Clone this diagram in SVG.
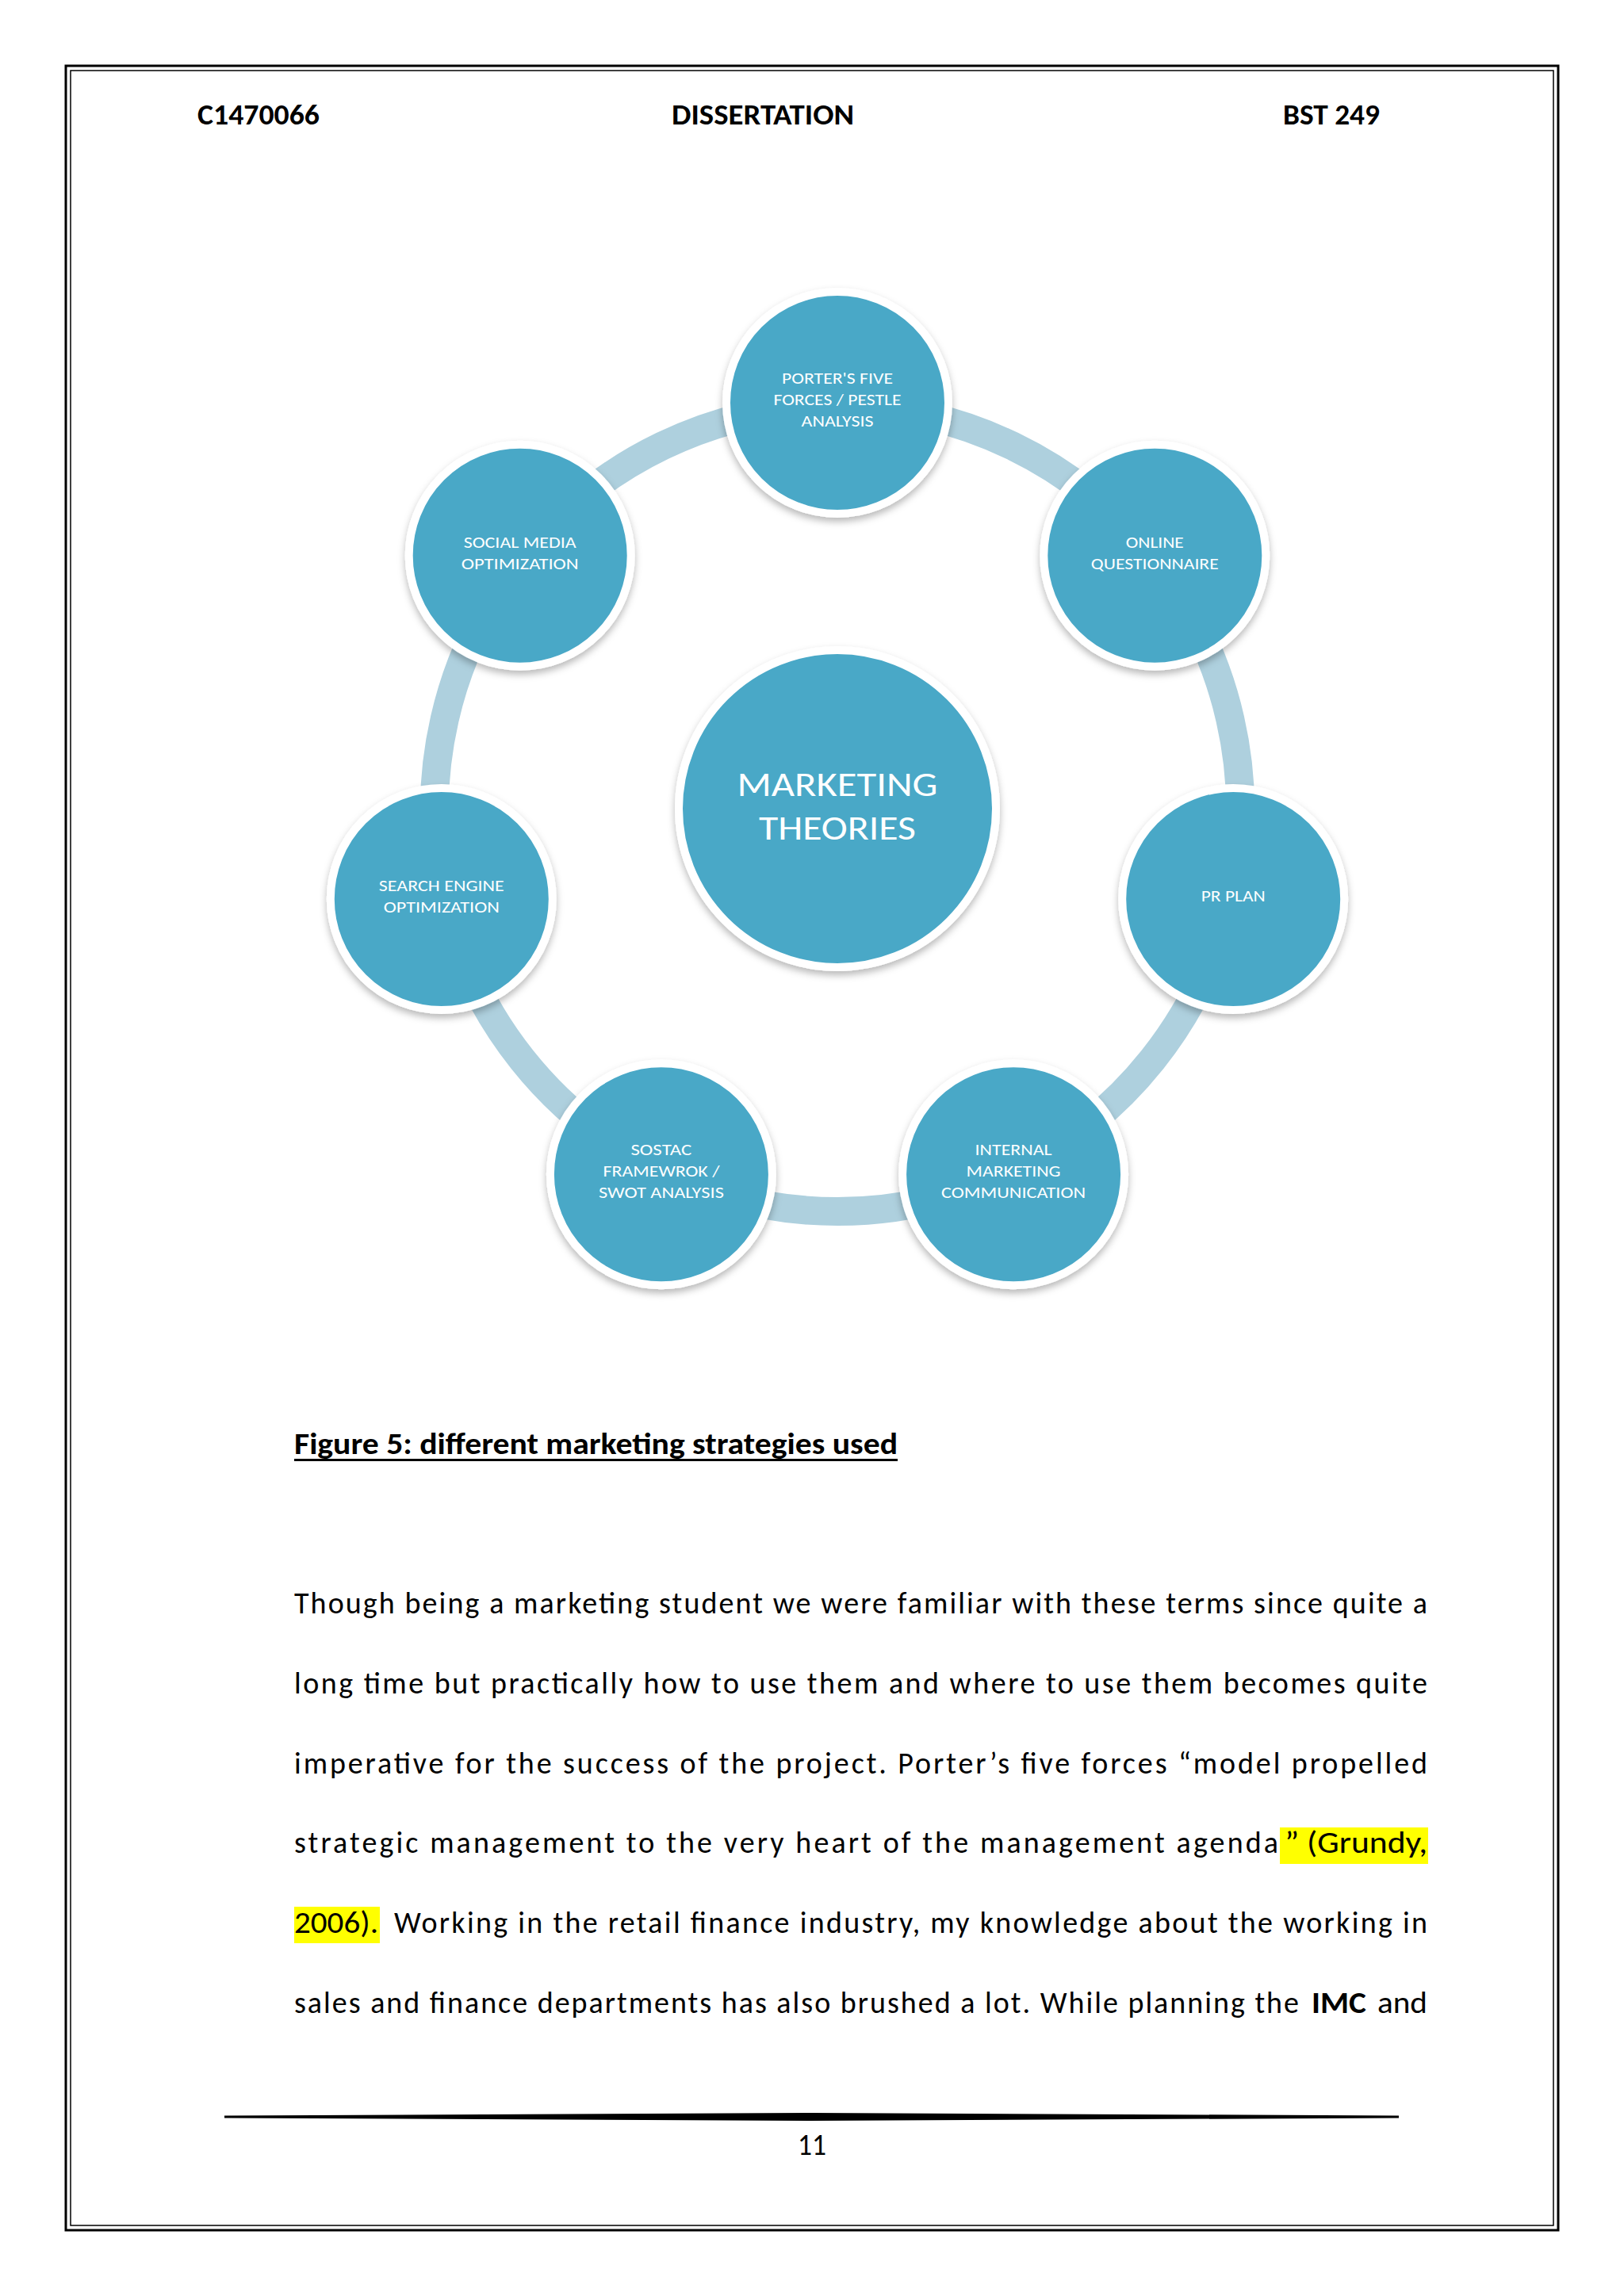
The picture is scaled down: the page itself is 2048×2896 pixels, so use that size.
<svg xmlns="http://www.w3.org/2000/svg" width="2048" height="2896" viewBox="0 0 2048 2896">
<defs>
<style>
.hdr{font-family:Carlito,Lato,"Liberation Sans",sans-serif;font-weight:bold;font-size:37px;fill:#000}
.body{font-family:Carlito,Lato,"Liberation Sans",sans-serif;font-size:38px;fill:#000}
.bold{font-weight:bold}
.lbl{font-family:Carlito,Lato,"Open Sans",sans-serif;font-size:19.5px;fill:#fff;text-anchor:middle}
.ctr{font-family:Carlito,Lato,"Open Sans",sans-serif;font-size:44px;fill:#fff;text-anchor:middle}
.node{fill:#4aa8c7;stroke:#fff;stroke-width:10}
.arc{fill:none;stroke:#aed0de;stroke-width:36}
</style>
<filter id="sh" x="-20%" y="-20%" width="140%" height="145%">
<feDropShadow dx="0" dy="5" stdDeviation="5" flood-color="#000" flood-opacity="0.28"/>
</filter>
</defs>
<rect x="0" y="0" width="2048" height="2896" fill="#fff"/>
<!-- page border -->
<rect x="83" y="83" width="1882" height="2730" fill="none" stroke="#000" stroke-width="3"/>
<rect x="89" y="89" width="1870" height="2718" fill="none" stroke="#000" stroke-width="1.5"/>
<!-- header -->
<text class="hdr" x="249" y="157" textLength="154" lengthAdjust="spacingAndGlyphs">C1470066</text>
<text class="hdr" x="847" y="157" textLength="230" lengthAdjust="spacingAndGlyphs">DISSERTATION</text>
<text class="hdr" x="1618" y="157" textLength="122" lengthAdjust="spacingAndGlyphs">BST 249</text>
<!-- connectors -->
<g id="connectors">
<path class="arc" d="M1056 512 A508 508 0 0 1 1453.2 703.3"/>
<path class="arc" d="M1453.2 703.3 A508 508 0 0 1 1551.3 1133"/>
<path class="arc" d="M1551.3 1133 A508 508 0 0 1 1276.4 1477.7"/>
<path class="arc" d="M1276.4 1477.7 A508 508 0 0 1 835.6 1477.7"/>
<path class="arc" d="M835.6 1477.7 A508 508 0 0 1 560.7 1133"/>
<path class="arc" d="M560.7 1133 A508 508 0 0 1 658.8 703.3"/>
<path class="arc" d="M658.8 703.3 A508 508 0 0 1 1056 512"/>
</g>
<!-- center -->
<g id="node-center">
<circle class="node" cx="1056" cy="1020" r="200" stroke-width="11" filter="url(#sh)"/>
<text class="ctr" x="1056" y="1004" textLength="253" lengthAdjust="spacingAndGlyphs">MARKETING</text>
<text class="ctr" x="1056" y="1059" textLength="198" lengthAdjust="spacingAndGlyphs">THEORIES</text>
</g>
<g id="node-porter">
<circle class="node" cx="1056" cy="508" r="140" filter="url(#sh)"/>
<text class="lbl" x="1056" y="484" textLength="140" lengthAdjust="spacingAndGlyphs">PORTER'S FIVE</text>
<text class="lbl" x="1056" y="511" textLength="161" lengthAdjust="spacingAndGlyphs">FORCES / PESTLE</text>
<text class="lbl" x="1056" y="538" textLength="91" lengthAdjust="spacingAndGlyphs">ANALYSIS</text>
</g>
<g id="node-online">
<circle class="node" cx="1456.3" cy="700.8" r="140" filter="url(#sh)"/>
<text class="lbl" x="1456.3" y="690.5" textLength="73" lengthAdjust="spacingAndGlyphs">ONLINE</text>
<text class="lbl" x="1456.3" y="717.5" textLength="161" lengthAdjust="spacingAndGlyphs">QUESTIONNAIRE</text>
</g>
<g id="node-pr">
<circle class="node" cx="1555.2" cy="1133.9" r="140" filter="url(#sh)"/>
<text class="lbl" x="1555.2" y="1137" textLength="81" lengthAdjust="spacingAndGlyphs">PR PLAN</text>
</g>
<g id="node-internal">
<circle class="node" cx="1278.1" cy="1481.3" r="140" filter="url(#sh)"/>
<text class="lbl" x="1278.1" y="1457" textLength="97" lengthAdjust="spacingAndGlyphs">INTERNAL</text>
<text class="lbl" x="1278.1" y="1484" textLength="119" lengthAdjust="spacingAndGlyphs">MARKETING</text>
<text class="lbl" x="1278.1" y="1511" textLength="182" lengthAdjust="spacingAndGlyphs">COMMUNICATION</text>
</g>
<g id="node-sostac">
<circle class="node" cx="833.9" cy="1481.3" r="140" filter="url(#sh)"/>
<text class="lbl" x="833.9" y="1457" textLength="77" lengthAdjust="spacingAndGlyphs">SOSTAC</text>
<text class="lbl" x="833.9" y="1484" textLength="147" lengthAdjust="spacingAndGlyphs">FRAMEWROK /</text>
<text class="lbl" x="833.9" y="1511" textLength="158" lengthAdjust="spacingAndGlyphs">SWOT ANALYSIS</text>
</g>
<g id="node-search">
<circle class="node" cx="556.8" cy="1133.9" r="140" filter="url(#sh)"/>
<text class="lbl" x="556.8" y="1123.5" textLength="158" lengthAdjust="spacingAndGlyphs">SEARCH ENGINE</text>
<text class="lbl" x="556.8" y="1150.5" textLength="146" lengthAdjust="spacingAndGlyphs">OPTIMIZATION</text>
</g>
<g id="node-social">
<circle class="node" cx="655.7" cy="700.8" r="140" filter="url(#sh)"/>
<text class="lbl" x="655.7" y="690.5" textLength="142" lengthAdjust="spacingAndGlyphs">SOCIAL MEDIA</text>
<text class="lbl" x="655.7" y="717.5" textLength="148" lengthAdjust="spacingAndGlyphs">OPTIMIZATION</text>
</g>
<!-- caption -->
<text class="body bold" x="371" y="1834" textLength="761" lengthAdjust="spacingAndGlyphs">Figure 5: different marketing strategies used</text>
<rect x="371" y="1840" width="761" height="3" fill="#000"/>
<!-- highlights -->
<rect x="1614" y="2305" width="187" height="46" fill="#ffff00"/>
<rect x="371" y="2405" width="108" height="46" fill="#ffff00"/>
<!-- paragraph -->
<text class="body" x="371" y="2035" textLength="1429" lengthAdjust="spacing">Though being a marketing student we were familiar with these terms since quite a</text>
<text class="body" x="371" y="2136" textLength="1429" lengthAdjust="spacing">long time but practically how to use them and where to use them becomes quite</text>
<text class="body" x="371" y="2237" textLength="1429" lengthAdjust="spacing">imperative for the success of the project. Porter’s five forces “model propelled</text>
<text class="body" x="371" y="2337" textLength="1241" lengthAdjust="spacing">strategic management to the very heart of the management agenda</text>
<text class="body" x="1620" y="2337" textLength="180" lengthAdjust="spacingAndGlyphs">” (Grundy,</text>
<text class="body" x="371" y="2438" textLength="106" lengthAdjust="spacingAndGlyphs">2006).</text>
<text class="body" x="497" y="2438" textLength="1303" lengthAdjust="spacing">Working in the retail finance industry, my knowledge about the working in</text>
<text class="body" x="371" y="2539" textLength="1267" lengthAdjust="spacing">sales and finance departments has also brushed a lot. While planning the</text>
<text class="body bold" x="1654" y="2539" textLength="69" lengthAdjust="spacingAndGlyphs">IMC</text>
<text class="body" x="1737" y="2539" textLength="63" lengthAdjust="spacingAndGlyphs">and</text>
<!-- footer -->
<polygon points="283,2668.5 1023,2665 1764,2668.5 1764,2671.5 1023,2675 283,2671.5" fill="#000"/>
<text class="body" x="1024" y="2718" text-anchor="middle" textLength="36" lengthAdjust="spacingAndGlyphs">11</text>
</svg>
